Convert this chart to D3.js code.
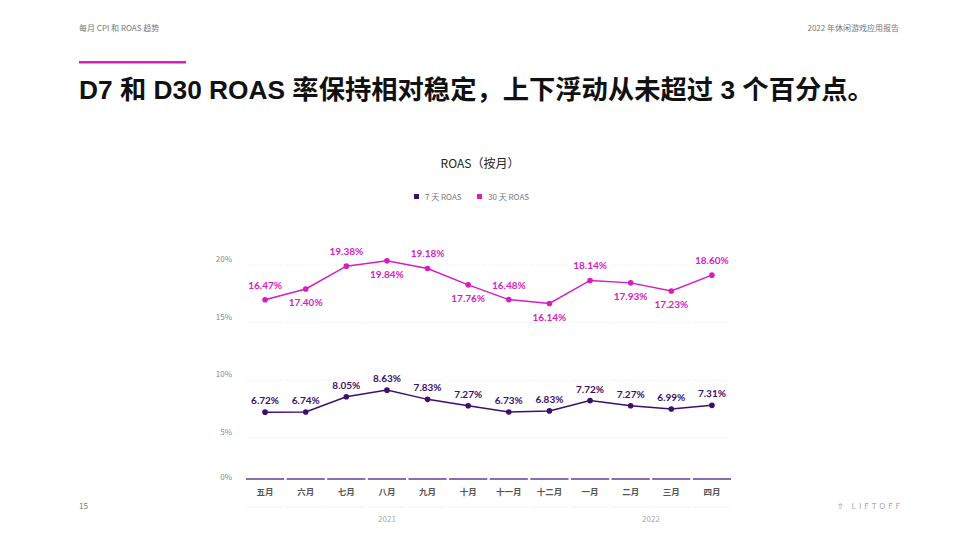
<!DOCTYPE html><html><head><meta charset="utf-8"><script src="https://cdn.jsdelivr.net/npm/d3@7"></script>
<style>body{margin:0;background:#fff}</style></head><body>
<svg id="c" width="960" height="540" style="font-family:'Noto Sans CJK SC','Noto Sans',sans-serif"></svg>
<script>
const months=["五月","六月","七月","八月","九月","十月","十一月","十二月","一月","二月","三月","四月"];
const d7=[6.72,6.74,8.05,8.63,7.83,7.27,6.73,6.83,7.72,7.27,6.99,7.31];
const d30=[16.47,17.40,19.38,19.84,19.18,17.76,16.48,16.14,18.14,17.93,17.23,18.60];
const d30Below=[false,true,false,true,false,true,false,true,false,true,true,false];
const yTicks=[0,5,10,15,20];
const years=[{y:"2021",from:0,to:6},{y:"2022",from:8,to:11}];
const svg=d3.select("#c");
const P="#d61dc0",V="#3d0f6b";
svg.append("text").attr("x",79).attr("y",31).attr("font-size",8).attr("fill","#777").text("每月 CPI 和 ROAS 趋势");
svg.append("text").attr("x",899).attr("y",31).attr("text-anchor","end").attr("font-size",8).attr("fill","#777").text("2022 年休闲游戏应用报告");
svg.append("rect").attr("x",79).attr("y",61).attr("width",107).attr("height",2.5).attr("fill",P);
svg.append("text").attr("x",79).attr("y",99).attr("font-size",26.3).attr("font-weight","bold").attr("fill","#111").style("font-family","'Liberation Sans','Noto Sans CJK SC',sans-serif").text("D7 和 D30 ROAS 率保持相对稳定，上下浮动从未超过 3 个百分点。");
svg.append("text").attr("x",480).attr("y",168).attr("text-anchor","middle").attr("font-size",12).attr("fill","#222").text("ROAS（按月）");
const lg=svg.append("g").attr("font-size",8).attr("fill","#777");
lg.append("rect").attr("x",414).attr("y",194).attr("width",5).attr("height",5).attr("fill",V);
lg.append("text").attr("x",425).attr("y",200).text("7 天 ROAS");
lg.append("rect").attr("x",477).attr("y",194).attr("width",5).attr("height",5).attr("fill",P);
lg.append("text").attr("x",488).attr("y",200).text("30 天 ROAS");
const x=d3.scaleBand().domain(months).range([246,731]).paddingInner(0.06);
const y=d3.scaleLinear().domain([0,5,20]).range([477,432,259]);
const cx=m=>x(m)+x.bandwidth()/2;
yTicks.forEach(t=>{
 svg.append("text").attr("x",232).attr("y",t===0?480:y(t)+3).attr("text-anchor","end").attr("font-size",8).attr("fill","#888").text(t+"%");
 if(t>0) months.forEach(m=>svg.append("line").attr("x1",x(m)).attr("x2",x(m)+x.bandwidth()).attr("y1",y(t)+6).attr("y2",y(t)+6).attr("stroke","#eee").attr("stroke-dasharray","1,1"));
});
months.forEach(m=>{
 svg.append("rect").attr("x",x(m)).attr("y",478).attr("width",x.bandwidth()).attr("height",2).attr("fill","#8a6fb0");
 svg.append("text").attr("x",cx(m)).attr("y",495).attr("text-anchor","middle").attr("font-size",8.5).attr("font-weight","bold").attr("fill","#555").text(m);
 svg.append("line").attr("x1",x(m)).attr("x2",x(m)+x.bandwidth()).attr("y1",507).attr("y2",507).attr("stroke","#e5e5e5").attr("stroke-dasharray","1,1");
});
years.forEach(g=>svg.append("text").attr("x",(cx(months[g.from])+cx(months[g.to]))/2).attr("y",522).attr("text-anchor","middle").attr("font-size",8).attr("fill","#aaa").text(g.y));
const line=d3.line().x((d,i)=>cx(months[i])).y(d=>y(d));
[[d30,P],[d7,V]].forEach(([s,c])=>{
 svg.append("path").attr("d",line(s)).attr("fill","none").attr("stroke",c).attr("stroke-width",1.5);
 s.forEach((v,i)=>svg.append("circle").attr("cx",cx(months[i])).attr("cy",y(v)).attr("r",2.8).attr("fill",c));
});
d30.forEach((v,i)=>svg.append("text").attr("x",cx(months[i])).attr("y",y(v)+(d30Below[i]?17:-11)).attr("text-anchor","middle").attr("font-size",10).attr("font-weight","bold").attr("fill",P).style("font-family","Lato,sans-serif").text(v.toFixed(2)+"%"));
d7.forEach((v,i)=>svg.append("text").attr("x",cx(months[i])).attr("y",y(v)-8).attr("text-anchor","middle").attr("font-size",10).attr("font-weight","bold").attr("fill",V).style("font-family","Lato,sans-serif").text(v.toFixed(2)+"%"));
svg.append("text").attr("x",79).attr("y",509).attr("font-size",8).attr("fill","#777").text("15");
svg.append("text").attr("x",903).attr("y",509).attr("text-anchor","end").attr("font-size",8).attr("fill","#aaa").attr("letter-spacing",3).text("⇮ LIFTOFF");
</script></body></html>
